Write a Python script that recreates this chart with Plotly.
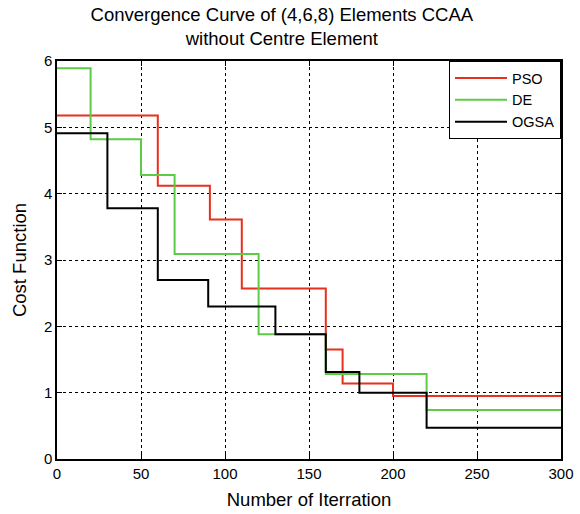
import plotly.graph_objects as go

# Iteration at which each cost level starts (step curves, held to the end)
iter_pso = [0, 60, 91, 110, 160, 170, 200, 300]
cost_pso = [5.18, 4.12, 3.61, 2.57, 1.65, 1.14, 0.95, 0.95]

iter_de = [0, 20, 50, 70, 120, 160, 220, 300]
cost_de = [5.89, 4.82, 4.28, 3.09, 1.88, 1.28, 0.74, 0.74]

iter_ogsa = [0, 30, 60, 90, 130, 160, 180, 220, 300]
cost_ogsa = [4.91, 3.78, 2.70, 2.30, 1.88, 1.31, 1.00, 0.47, 0.47]

x_ticks = [0, 50, 100, 150, 200, 250, 300]
y_ticks = [0, 1, 2, 3, 4, 5, 6]

font_family = "Liberation Sans, Arial, sans-serif"

fig = go.Figure()
for name, xs, ys, color in [
    ("PSO", iter_pso, cost_pso, "#e8301f"),
    ("DE", iter_de, cost_de, "#5ccb45"),
    ("OGSA", iter_ogsa, cost_ogsa, "#000000"),
]:
    fig.add_trace(go.Scatter(
        x=xs, y=ys, name=name, mode="lines",
        line=dict(color=color, width=2, shape="hv"),
    ))

axis_common = dict(
    showline=True, linecolor="black", linewidth=1.5, mirror="allticks",
    ticks="inside", ticklen=5, tickcolor="black",
    showgrid=True, gridcolor="black", griddash="dot", gridwidth=1,
    zeroline=False, automargin=False,
    tickfont=dict(family=font_family, size=15, color="black"),
)

fig.update_layout(
    template="none",
    width=580, height=514,
    margin=dict(l=57, r=19, t=61, b=55, autoexpand=False),
    paper_bgcolor="white", plot_bgcolor="white",
    font=dict(family=font_family, color="black"),
    title=dict(
        text="Convergence Curve of (4,6,8) Elements CCAA<br>without Centre Element",
        x=0.486, xanchor="center", y=0.96, yanchor="middle",
        font=dict(family=font_family, size=18.5, color="black"),
    ),
    xaxis=dict(
        range=[0, 300], tickvals=x_ticks,
        title=dict(text="Number of Iterration", font=dict(size=18.5), standoff=12),
        **axis_common,
    ),
    yaxis=dict(
        range=[0, 6], tickvals=y_ticks,
        title=dict(text="Cost Function", font=dict(size=18.5), standoff=12),
        **axis_common,
    ),
    legend=dict(
        x=1, y=1, xanchor="right", yanchor="top",
        bgcolor="white", bordercolor="black", borderwidth=1,
        font=dict(family=font_family, size=14.5, color="black"),
        tracegroupgap=0, itemwidth=52,
    ),
)

fig.write_html("out.html")
